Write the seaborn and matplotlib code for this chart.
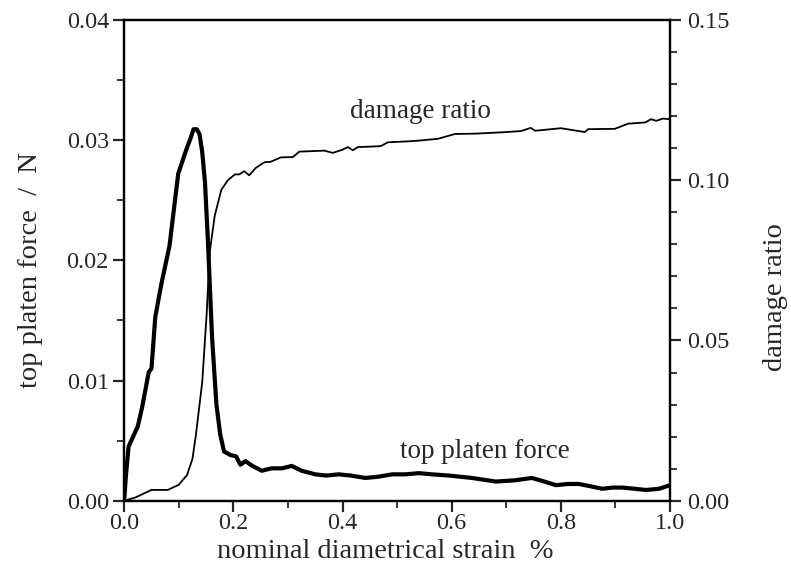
import numpy as np
import pandas as pd
import matplotlib
matplotlib.use("Agg")
import matplotlib.pyplot as plt
from matplotlib.ticker import MultipleLocator, FormatStrFormatter
import seaborn as sns

# strain (%) and top platen force (N)
force_strain = [0, 0.003, 0.008, 0.015, 0.025, 0.033, 0.040, 0.045, 0.050, 0.057,
                0.068, 0.083, 0.099, 0.113, 0.122, 0.127, 0.133, 0.138, 0.143, 0.148,
                0.153, 0.161, 0.169, 0.176, 0.183, 0.195, 0.205, 0.213, 0.222, 0.235,
                0.252, 0.270, 0.289, 0.307, 0.325, 0.350, 0.370, 0.393, 0.415, 0.442,
                0.465, 0.491, 0.515, 0.540, 0.564, 0.595, 0.637, 0.681, 0.715, 0.747,
                0.770, 0.791, 0.813, 0.833, 0.855, 0.876, 0.895, 0.913, 0.935, 0.956,
                0.980, 1.0]
force = [0, 0.0020, 0.0045, 0.0052, 0.0062, 0.0078, 0.0095, 0.0107, 0.0110, 0.0153,
         0.0180, 0.0212, 0.0272, 0.0291, 0.0302, 0.0309, 0.0309, 0.0305, 0.0290, 0.0265,
         0.0220, 0.0136, 0.0080, 0.0055, 0.0041, 0.0038, 0.0037, 0.0030, 0.0033, 0.0029,
         0.0025, 0.0027, 0.0027, 0.0029, 0.0025, 0.0022, 0.0021, 0.0022, 0.0021, 0.0019,
         0.0020, 0.0022, 0.0022, 0.0023, 0.0022, 0.0021, 0.0019, 0.0016, 0.0017, 0.0019,
         0.0016, 0.0013, 0.0014, 0.0014, 0.0012, 0.0010, 0.0011, 0.0011, 0.0010, 0.0009,
         0.0010, 0.0013]

# strain (%) and damage ratio
damage_strain = [0, 0.02, 0.05, 0.08, 0.10, 0.115, 0.125, 0.131, 0.143, 0.151,
                 0.157, 0.166, 0.178, 0.190, 0.203, 0.211, 0.220, 0.229, 0.241, 0.257,
                 0.268, 0.287, 0.309, 0.321, 0.367, 0.382, 0.400, 0.410, 0.419, 0.428,
                 0.470, 0.483, 0.520, 0.538, 0.575, 0.606, 0.643, 0.690, 0.727, 0.745,
                 0.753, 0.800, 0.844, 0.850, 0.899, 0.923, 0.955, 0.965, 0.975, 0.987,
                 1.0]
damage = [0, 0.0010, 0.0034, 0.0034, 0.0050, 0.0080, 0.0130, 0.0200, 0.0370, 0.0580,
          0.0780, 0.0890, 0.0970, 0.1000, 0.1018, 0.1018, 0.1028, 0.1015, 0.1038, 0.1056,
          0.1057, 0.1071, 0.1072, 0.1089, 0.1092, 0.1085, 0.1095, 0.1103, 0.1093, 0.1103,
          0.1106, 0.1118, 0.1121, 0.1123, 0.1129, 0.1144, 0.1145, 0.1149, 0.1153, 0.1163,
          0.1154, 0.1162, 0.1150, 0.1159, 0.1160, 0.1176, 0.1180, 0.1190, 0.1185, 0.1192,
          0.1190]

df_force = pd.DataFrame({"strain": force_strain, "force": force})
df_damage = pd.DataFrame({"strain": damage_strain, "damage": damage})

sns.set_style("ticks")
plt.rcParams["font.family"] = ["Liberation Serif", "DejaVu Serif"]
plt.rcParams["axes.linewidth"] = 1.6
plt.rcParams["xtick.major.width"] = 1.6
plt.rcParams["ytick.major.width"] = 1.6
plt.rcParams["xtick.minor.width"] = 1.3
plt.rcParams["ytick.minor.width"] = 1.3

fig = plt.figure(figsize=(7.91, 5.83), dpi=100)
ax = fig.add_axes([0.157, 0.141, 0.690, 0.825])
ax2 = ax.twinx()

sns.lineplot(data=df_force, x="strain", y="force", ax=ax, color="black",
             linewidth=3.0, sort=False)
sns.lineplot(data=df_damage, x="strain", y="damage", ax=ax2, color="black",
             linewidth=1.3, sort=False)

ax.set_xlim(0, 1.0)
ax.set_ylim(0, 0.04)
ax2.set_ylim(0, 0.15)

ax.xaxis.set_major_locator(MultipleLocator(0.2))
ax.xaxis.set_minor_locator(MultipleLocator(0.1))
ax.yaxis.set_major_locator(MultipleLocator(0.01))
ax.yaxis.set_minor_locator(MultipleLocator(0.005))
ax2.yaxis.set_major_locator(MultipleLocator(0.05))
ax2.yaxis.set_minor_locator(MultipleLocator(0.01))
ax.xaxis.set_major_formatter(FormatStrFormatter("%.1f"))
ax.yaxis.set_major_formatter(FormatStrFormatter("%.2f"))
ax2.yaxis.set_major_formatter(FormatStrFormatter("%.2f"))

ax.tick_params(axis="both", which="major", length=8, labelsize=17.5, pad=3)
ax.tick_params(axis="x", which="major", pad=1)
ax.tick_params(axis="both", which="minor", length=5)
ax.tick_params(axis="x", top=False)
ax2.tick_params(axis="y", which="major", length=8, labelsize=17.5, pad=4)
ax2.tick_params(axis="y", which="minor", length=5)

for a in (ax, ax2):
    for s in a.spines.values():
        s.set_visible(True)
        s.set_color("black")

ax.set_xlabel("nominal diametrical strain  %", fontsize=20.5)
ax.set_ylabel("top platen force  /  N", fontsize=20.5)
ax2.set_ylabel("damage ratio", fontsize=20.5)
# label spots, in axes fractions
ax.xaxis.set_label_coords(0.478, -0.080)
ax.yaxis.set_label_coords(-0.148, 0.48)
ax2.yaxis.set_label_coords(1.170, 0.424)

ax.text(0.542, 0.809, "damage ratio", transform=ax.transAxes, fontsize=19.5,
        ha="center", va="center")
ax.text(0.661, 0.102, "top platen force", transform=ax.transAxes, fontsize=19.5,
        ha="center", va="center")

fig.savefig("out.png", dpi=100)
